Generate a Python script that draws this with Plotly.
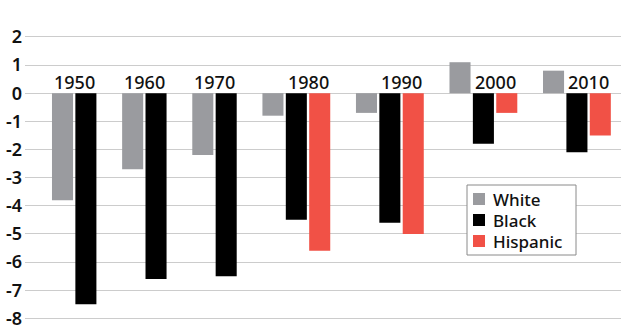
import plotly.graph_objects as go

# Change by decade, per group
decades = ["1950", "1960", "1970", "1980", "1990", "2000", "2010"]
white = [-3.8, -2.7, -2.2, -0.8, -0.7, 1.1, 0.8]
black = [-7.5, -6.6, -6.5, -4.5, -4.6, -1.8, -2.1]
hispanic = [None, None, None, -5.6, -5.0, -0.7, -1.5]

y_ticks = [2, 1, 0, -1, -2, -3, -4, -5, -6, -7, -8]

series = [
    ("White", white, "#9a9b9f"),
    ("Black", black, "#000000"),
    ("Hispanic", hispanic, "#f15146"),
]

FONT = "Noto Sans"
W, H = 630, 331
M = dict(l=25, r=9, t=20, b=7)

# Lay bars out in consecutive slots: each decade takes one slot per series
# that has a value, followed by one empty slot as a gap.
positions = {name: [] for name, _, _ in series}
label_x = []
slot = 0
for i, dec in enumerate(decades):
    used = []
    for name, vals, _ in series:
        if vals[i] is not None:
            positions[name].append(slot)
            used.append(slot)
            slot += 1
        else:
            positions[name].append(None)
    label_x.append(sum(used[-2:]) / 2)
    slot += 1

fig = go.Figure()
for name, vals, color in series:
    xs = [p for p in positions[name] if p is not None]
    ys = [v for v in vals if v is not None]
    fig.add_trace(go.Bar(
        x=xs, y=ys, name=name, width=0.9,
        marker=dict(color=color, line=dict(width=0)),
        hoverinfo="skip", showlegend=False,
    ))

for dec, lx in zip(decades, label_x):
    fig.add_annotation(
        x=lx, y=0, text=dec, showarrow=False, xanchor="center", yanchor="bottom",
        yshift=-3, font=dict(family=FONT, size=18, color="#111111", weight=500),
    )


# Boxed key, laid out in pixels and converted to paper coordinates
def px(x):
    return (x - M["l"]) / (W - M["l"] - M["r"])


def py(y):
    return (H - M["b"] - y) / (H - M["t"] - M["b"])


KEY_LEFT, KEY_RIGHT, KEY_TOP = 467, 576, 185
ROW_STEP, ROW0, SW = 21, 199, 12
key_bottom = ROW0 + ROW_STEP * (len(series) - 1) + 14
fig.add_shape(
    type="rect", xref="paper", yref="paper",
    x0=px(KEY_LEFT), x1=px(KEY_RIGHT), y0=py(key_bottom), y1=py(KEY_TOP),
    fillcolor="white", line=dict(color="#8a8a8a", width=1), layer="above",
)
for k, (name, _, color) in enumerate(series):
    cy = ROW0 + k * ROW_STEP
    fig.add_shape(
        type="rect", xref="paper", yref="paper",
        x0=px(KEY_LEFT + 6), x1=px(KEY_LEFT + 6 + SW),
        y0=py(cy + SW / 2), y1=py(cy - SW / 2),
        fillcolor=color, line=dict(width=0), layer="above",
    )
    fig.add_annotation(
        xref="paper", yref="paper", x=px(KEY_LEFT + 24), y=py(cy),
        xanchor="left", yanchor="middle", showarrow=False, text=name,
        font=dict(family=FONT, size=17, color="#111111", weight=500),
    )

fig.update_layout(
    width=W, height=H,
    margin=M,
    paper_bgcolor="white", plot_bgcolor="white",
    barmode="overlay",
    showlegend=False,
    font=dict(family=FONT),
)
fig.update_xaxes(
    range=[-1.604, 23.885], showticklabels=False, showgrid=False,
    zeroline=False, showline=False, fixedrange=True, automargin=False,
)
fig.update_yaxes(
    range=[-8.2, 2.6], tickvals=y_ticks, ticktext=[str(t) for t in y_ticks],
    showgrid=True, gridcolor="#cccccc", gridwidth=1,
    zeroline=True, zerolinecolor="#cccccc", zerolinewidth=1,
    showline=False, ticks="", ticklabelstandoff=2, automargin=False,
    tickfont=dict(family=FONT, size=18, color="#111111", weight=600),
    fixedrange=True,
)

fig.write_html("out.html")
